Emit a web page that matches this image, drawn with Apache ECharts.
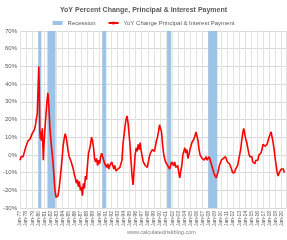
<!DOCTYPE html>
<html>
<head>
<meta charset="utf-8">
<title>ECharts</title>
<script src="https://cdn.jsdelivr.net/npm/echarts@6/dist/echarts.min.js"></script>
<style>
html, body { margin: 0; padding: 0; background: #fff; }
#main { width: 287px; height: 240px; }
</style>
</head>
<body>
<div id="main"></div>
<script>
// monthly-ish readings of the YoY change (percent)
var dates = ['1977-01','1977-03','1977-05','1977-07','1977-09','1977-11','1978-01','1978-03','1978-05','1978-07','1978-09','1978-11',
  '1979-01','1979-03','1979-05','1979-07','1979-09','1979-11','1980-01','1980-02','1980-03','1980-04','1980-05','1980-06','1980-07','1980-08','1980-09','1980-10','1980-11','1980-12',
  '1981-02','1981-04','1981-06','1981-08','1981-10','1981-12','1982-02','1982-04','1982-06','1982-08','1982-10','1982-12',
  '1983-02','1983-04','1983-06','1983-08','1983-10','1983-12','1984-02','1984-04','1984-06','1984-08','1984-10','1984-12',
  '1985-02','1985-04','1985-06','1985-08','1985-10','1985-12','1986-02','1986-04','1986-06','1986-08','1986-10','1986-12',
  '1987-02','1987-04','1987-06','1987-08','1987-10','1987-12','1988-02','1988-04','1988-06','1988-08','1988-10','1988-12',
  '1989-02','1989-04','1989-06','1989-08','1989-10','1989-12','1990-02','1990-04','1990-06','1990-08','1990-10','1990-12',
  '1991-02','1991-04','1991-06','1991-08','1991-10','1991-12','1992-02','1992-04','1992-06','1992-08','1992-10','1992-12',
  '1993-02','1993-04','1993-06','1993-08','1993-10','1993-12','1994-02','1994-04','1994-06','1994-08','1994-10','1994-12',
  '1995-02','1995-04','1995-06','1995-08','1995-10','1995-12','1996-02','1996-04','1996-06','1996-08','1996-10','1996-12',
  '1997-02','1997-04','1997-06','1997-08','1997-10','1997-12','1998-02','1998-04','1998-06','1998-08','1998-10','1998-12',
  '1999-02','1999-04','1999-06','1999-08','1999-10','1999-12','2000-02','2000-04','2000-06','2000-08','2000-10','2000-12',
  '2001-02','2001-04','2001-06','2001-08','2001-10','2001-12','2002-02','2002-04','2002-06','2002-08','2002-10','2002-12',
  '2003-02','2003-04','2003-06','2003-08','2003-10','2003-12','2004-02','2004-04','2004-06','2004-08','2004-10','2004-12',
  '2005-02','2005-04','2005-06','2005-08','2005-10','2005-12','2006-02','2006-04','2006-06','2006-08','2006-10','2006-12',
  '2007-02','2007-04','2007-06','2007-08','2007-10','2007-12','2008-02','2008-04','2008-06','2008-08','2008-10','2008-12',
  '2009-02','2009-04','2009-06','2009-08','2009-10','2009-12','2010-02','2010-04','2010-06','2010-08','2010-10','2010-12',
  '2011-02','2011-04','2011-06','2011-08','2011-10','2011-12','2012-02','2012-04','2012-06','2012-08','2012-10','2012-12',
  '2013-02','2013-04','2013-06','2013-08','2013-10','2013-12','2014-02','2014-04','2014-06','2014-08','2014-10','2014-12',
  '2015-02','2015-04','2015-06','2015-08','2015-10','2015-12','2016-02','2016-04','2016-06','2016-08','2016-10','2016-12',
  '2017-02','2017-04','2017-06','2017-08','2017-10','2017-12','2018-02','2018-04','2018-06','2018-08','2018-10','2018-12',
  '2019-02','2019-04','2019-06','2019-08','2019-10','2019-12','2020-02','2020-04','2020-06'];
var yoy = [-3,-1,0,-1,1,3,5,6,8,7,9,10,
  12,11,14,16,20,23,24,50,38,14,9,13,8,12,15,6,-3,4,
  14,22,30,35,27,15,8,2,-4,-12,-20,-24,
  -25,-23,-19,-14,-8,-2,5,9,12,10,6,2,
  -1,0,-4,-5,-8,-11,-13,-16,-14,-18,-15,-20,
  -18,-23,-16,-19,-12,-14,-6,1,3,6,10,8,
  4,-2,-4,-2,-6,-3,-5,-1,1,0,-3,-5,
  -4,-7,-5,-8,-6,-7,-4,-5,-8,-6,-9,-10,
  -8,-9,-7,-8,-3,6,11,16,20,22,18,12,
  5,-4,-12,-17,-8,0,4,2,6,3,7,2,
  -1,-4,-3,-6,-5,-7,-4,-1,1,0,3,4,
  2,5,8,10,13,17,18,13,6,1,-2,-4,
  -3,-6,-5,-8,-7,-4,-5,-6,-4,-7,-8,-6,
  -10,-13,-9,-6,0,2,4,1,3,-2,0,3,
  5,7,6,9,11,13,12,8,3,0,-1,-2,
  -1,-3,-2,-1,-3,-2,-1,-3,-4,-7,-9,-11,
  -10,-13,-12,-9,-6,-5,-3,-4,-2,-3,-1,-2,
  -4,-3,-5,-6,-8,-10,-9,-10,-8,-9,-6,-3,
  0,3,8,12,15,12,9,7,4,1,-1,-2,
  -1,-4,-3,-5,-3,-2,-3,0,-1,1,3,6,
  7,5,4,6,8,10,11,13,12,7,3,-2,
  -6,-10,-12,-10,-11,-8,-9,-8,-10];

var recessionStart = ['1980-01','1981-07','1990-07','2001-03','2007-12'];
var recessionEnd   = ['1980-07','1982-11','1991-03','2001-11','2009-06'];

function toYear(s) {
  var p = s.split('-');
  return +p[0] + (+p[1] - 1) / 12;
}

var lineData = dates.map(function (d, i) { return [toYear(d), yoy[i]]; });
var bands = recessionStart.map(function (s, i) {
  return [{ xAxis: toYear(s) }, { xAxis: toYear(recessionEnd[i]) }];
});

var myChart = echarts.init(document.getElementById('main'));
var option = {
  animation: false,
  backgroundColor: '#fff',
  title: {
    text: 'YoY Percent Change, Principal & Interest Payment',
    left: 'center',
    top: 2,
    textStyle: { fontSize: 7, fontWeight: 'bold', color: '#595959', fontFamily: 'Liberation Sans' }
  },
  legend: {
    top: 15,
    left: 'center',
    itemGap: 12,
    itemWidth: 10,
    itemHeight: 4,
    textStyle: { fontSize: 6, color: '#595959', fontFamily: 'Liberation Sans' },
    data: [
      { name: 'Recession', icon: 'rect' },
      { name: 'YoY Change Principal & Interest Payment' }
    ]
  },
  grid: { left: 18, right: 1, top: 31, bottom: 32 },
  xAxis: {
    type: 'value',
    min: 1977,
    max: 2020.7,
    interval: 1,
    axisLine: { show: false },
    axisTick: { show: false },
    splitLine: { show: true, lineStyle: { color: '#e3e3e3', width: 1 } },
    axisLabel: {
      rotate: 90,
      fontSize: 5,
      margin: 3,
      color: '#595959',
      fontFamily: 'Liberation Sans',
      showMaxLabel: false,
      formatter: function (v) { return 'Jan-' + String(v).slice(2); }
    }
  },
  yAxis: {
    type: 'value',
    min: -30,
    max: 70,
    interval: 10,
    axisLine: { show: false },
    axisTick: { show: false },
    splitLine: { lineStyle: { color: '#d9d9d9', width: 1 } },
    axisLabel: { fontSize: 6, margin: 3, color: '#595959', fontFamily: 'Liberation Sans', formatter: '{value}%' }
  },
  graphic: [{
    type: 'text',
    left: 127,
    top: 229,
    style: { text: 'www.calculatedriskblog.com', fontSize: 5.5, fill: '#7f7f7f', fontFamily: 'Liberation Sans' }
  }],
  series: [{
    name: 'Recession',
    type: 'line',
    data: [],
    itemStyle: { color: '#9dc3e6' },
    markArea: {
      silent: true,
      itemStyle: { color: '#9dc3e6', opacity: 1 },
      data: bands
    }
  }, {
    name: 'YoY Change Principal & Interest Payment',
    type: 'line',
    symbol: 'none',
    data: lineData,
    itemStyle: { color: '#ff0000' },
    lineStyle: { color: '#ff0000', width: 1.6 },
    z: 5
  }]
};
myChart.setOption(option);
</script>
</body>
</html>
